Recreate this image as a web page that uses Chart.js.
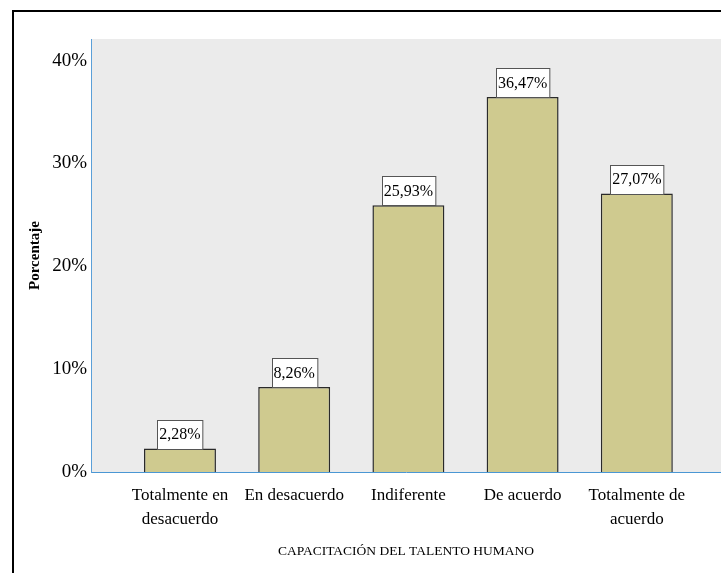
<!DOCTYPE html>
<html>
<head>
<meta charset="utf-8">
<title>Capacitación del talento humano</title>
<script src="https://cdn.jsdelivr.net/npm/chart.js@4/dist/chart.umd.min.js"></script>
<style>
  html, body { margin: 0; padding: 0; background: #fff; }
  #wrap { width: 721px; height: 573px; }
</style>
</head>
<body>
<div id="wrap"><canvas id="chart" width="721" height="573"></canvas></div>
<script>
// categorías y porcentajes
const categories = [
  ['Totalmente en', 'desacuerdo'],
  'En desacuerdo',
  'Indiferente',
  'De acuerdo',
  ['Totalmente de', 'acuerdo']
];
const percentages = [2.28, 8.26, 25.93, 36.47, 27.07];
const yTicks = [0, 10, 20, 30, 40];

const SERIF = '"Liberation Serif", "Times New Roman", serif';

// fondo gris del área de trazado y marco negro
const frame = {
  id: 'frame',
  beforeDraw(chart) {
    const { ctx, chartArea: a } = chart;
    ctx.save();
    ctx.fillStyle = '#ebebeb';
    ctx.fillRect(a.left, a.top, a.right - a.left, a.bottom - a.top);
    ctx.strokeStyle = '#000';
    ctx.lineWidth = 2;
    ctx.beginPath();
    ctx.moveTo(13, chart.height);
    ctx.lineTo(13, 11);
    ctx.lineTo(chart.width, 11);
    ctx.stroke();
    ctx.restore();
  }
};

// etiquetas de valor en recuadro blanco sobre cada barra
const valueBoxes = {
  id: 'valueBoxes',
  afterDatasetsDraw(chart) {
    const { ctx } = chart;
    const meta = chart.getDatasetMeta(0);
    ctx.save();
    ctx.font = '16px ' + SERIF;
    ctx.textAlign = 'center';
    ctx.textBaseline = 'middle';
    meta.data.forEach((bar, i) => {
      const txt = percentages[i].toFixed(2).replace('.', ',') + '%';
      const w = ctx.measureText(txt).width + 4;
      const h = 29;
      const x = Math.round(bar.x - w / 2) + 0.5;
      const y = Math.round(bar.y - h) + 0.5;
      ctx.fillStyle = '#fff';
      ctx.fillRect(x, y, w, h);
      ctx.strokeStyle = '#555';
      ctx.lineWidth = 1;
      ctx.strokeRect(x, y, w, h);
      ctx.fillStyle = '#000';
      ctx.fillText(txt, bar.x, bar.y - h / 2 + 1);
    });
    ctx.restore();
  }
};

new Chart(document.getElementById('chart'), {
  type: 'bar',
  data: {
    datasets: [{
      data: percentages.map((v, i) => ({ x: i, y: v })),
      backgroundColor: '#cfca8f',
      borderColor: '#2a2a2a',
      borderWidth: 1.5,
      barPercentage: 0.63,
      categoryPercentage: 1
    }]
  },
  options: {
    responsive: false,
    animation: false,
    layout: { padding: { top: 39, left: 0, right: 0, bottom: 0 } },
    plugins: { legend: { display: false }, tooltip: { enabled: false } },
    scales: {
      x: {
        type: 'linear',
        offset: false,
        min: -0.779,
        max: 4.737,
        grid: { display: false, drawTicks: false },
        border: { color: '#4a97d4', width: 1 },
        ticks: {
          stepSize: 1,
          includeBounds: false,
          autoSkip: false,
          maxRotation: 0,
          padding: 12,
          color: '#000',
          font: { family: SERIF, size: 17, lineHeight: 1.4 },
          callback: v => Number.isInteger(v) ? categories[v] : ''
        },
        title: {
          display: true,
          text: 'CAPACITACIÓN DEL TALENTO HUMANO',
          color: '#000',
          font: { family: SERIF, size: 13.5 },
          padding: { top: 0, bottom: 13 }
        },
        afterFit(scale) { scale.height = 101; }
      },
      y: {
        min: 0,
        max: 42.1,
        grid: { display: false, drawTicks: false },
        border: { color: '#5a9fd8', width: 1 },
        ticks: {
          stepSize: 10,
          includeBounds: false,
          padding: 4,
          color: '#000',
          font: { family: SERIF, size: 19 },
          callback: v => yTicks.includes(v) ? v + '%' : ''
        },
        title: {
          display: true,
          text: 'Porcentaje',
          color: '#000',
          font: { family: SERIF, size: 15, weight: 'bold' },
          padding: { top: 26, bottom: 0 }
        },
        afterFit(scale) { scale.width = 91; }
      }
    }
  },
  plugins: [frame, valueBoxes]
});
</script>
</body>
</html>
